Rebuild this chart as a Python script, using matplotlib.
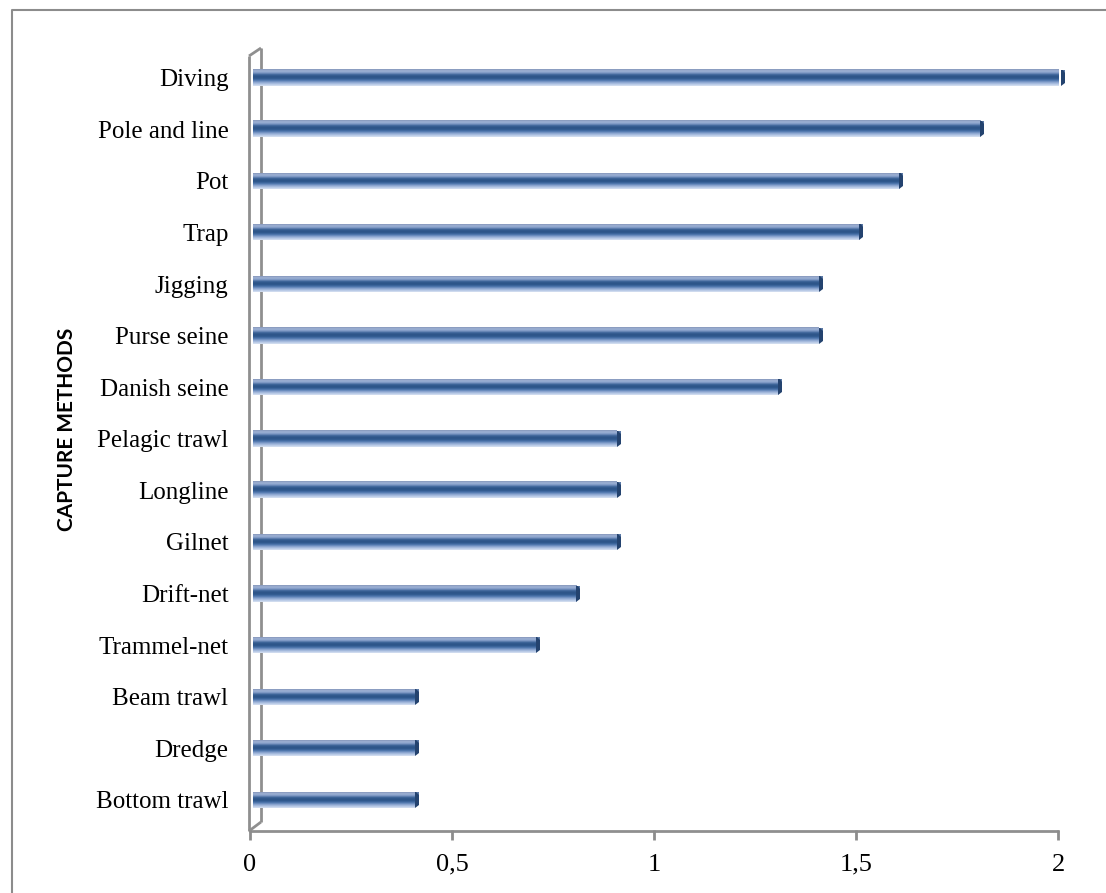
import matplotlib
matplotlib.use("Agg")
import matplotlib.pyplot as plt
import numpy as np
from matplotlib.colors import LinearSegmentedColormap
from matplotlib.patches import Polygon
from matplotlib.lines import Line2D

categories = ["Bottom trawl", "Dredge", "Beam trawl", "Trammel-net", "Drift-net",
              "Gilnet", "Longline", "Pelagic trawl", "Danish seine", "Purse seine",
              "Jigging", "Trap", "Pot", "Pole and line", "Diving"]
values = [0.4, 0.4, 0.4, 0.7, 0.8, 0.9, 0.9, 0.9, 1.3, 1.4, 1.4, 1.5, 1.6, 1.8, 2.0]
xticks = [0, 0.5, 1, 1.5, 2]
xtick_labels = ["0", "0,5", "1", "1,5", "2"]
ylabel = "CAPTURE METHODS"

W, H = 1106, 893
fig = plt.figure(figsize=(W / 100, H / 100), dpi=100)

# axes placement in pixels (from top-left)
px_left, px_right = 250, 1058
px_top, px_bottom = 48, 830
ax = fig.add_axes([px_left / W, 1 - px_bottom / H,
                   (px_right - px_left) / W, (px_bottom - px_top) / H])
ax.set_zorder(2)

ppu = (px_right - px_left) / 2.0          # pixels per x unit
spacing = 51.6                             # pixels per category
y_first_px = 800                           # pixel y of first category
ylo = -(px_bottom - y_first_px) / spacing
yhi = (y_first_px - px_top) / spacing

grad_colors = ["#8697bb", "#9fb3d6", "#7d98c4", "#3c6398", "#2c5487",
               "#30598f", "#4f77ae", "#86a1cd", "#b1c4e3", "#d8e2f2"]
cmap = LinearSegmentedColormap.from_list("bar", grad_colors)
grad = np.linspace(0, 1, 64).reshape(-1, 1)

bar_h = 16 / spacing
x_off = 3 / ppu
cap_dx = 4 / ppu
cap_dy = 3 / spacing

for i, v in enumerate(values):
    x0 = x_off
    x1 = x_off + v
    ax.imshow(grad, cmap=cmap, aspect="auto", interpolation="bilinear",
              extent=[x0, x1, i - bar_h / 2, i + bar_h / 2], zorder=3)
    cap = Polygon([(x1, i - bar_h / 2), (x1, i + bar_h / 2),
                   (x1 + cap_dx, i + bar_h / 2), (x1 + cap_dx, i - bar_h / 2 + cap_dy)],
                  closed=True, facecolor="#24436f", edgecolor="none", zorder=4,
                  clip_on=False)
    ax.add_patch(cap)
    cap2 = Polygon([(x1 + cap_dx * 0.4, i + bar_h / 2), (x1 + cap_dx, i + bar_h / 2),
                    (x1 + cap_dx, i + bar_h / 2 - cap_dy)],
                   closed=True, facecolor="#5b79a6", edgecolor="none", zorder=5,
                   clip_on=False)
    ax.add_patch(cap2)

ax.set_xlim(0, 2)
ax.set_ylim(ylo, yhi)
for s in ax.spines.values():
    s.set_visible(False)
ax.set_yticks(range(len(categories)))
ax.set_yticklabels(categories, family="Liberation Serif", fontsize=18, color="black")
ax.tick_params(axis="y", length=0, pad=15.5)
ax.set_xticks(xticks)
ax.set_xticklabels(xtick_labels, family="Liberation Serif", fontsize=19, color="black")
ax.tick_params(axis="x", length=7, width=2, color="#8c8c8c", pad=10)
ax.patch.set_visible(False)

# 3D wall and floor (figure pixel coordinates)
gray = "#8f8f8f"
def fl(xs, ys, lw=2.0):
    fig.add_artist(Line2D([x / W for x in xs], [1 - y / H for y in ys],
                          color=gray, lw=lw, solid_capstyle="butt", zorder=1))

fl([249, 249], [56, 831])
fl([261, 261], [48, 822])
fl([249, 261], [56, 48])
fl([249, 261], [831, 822])
fl([249, 1059], [831, 831])

# outer chart border
fig.add_artist(Line2D([12 / W, 12 / W, 1.0], [0.0, 1 - 10 / H, 1 - 10 / H],
                      color="#8c8c8c", lw=1.5, zorder=0))

fig.text(67 / W, 1 - 429 / H, ylabel, rotation=90, ha="center", va="center",
         family="Lato", fontweight="bold", fontsize=15, color="black")

fig.savefig("out.png", dpi=100, facecolor="white")
